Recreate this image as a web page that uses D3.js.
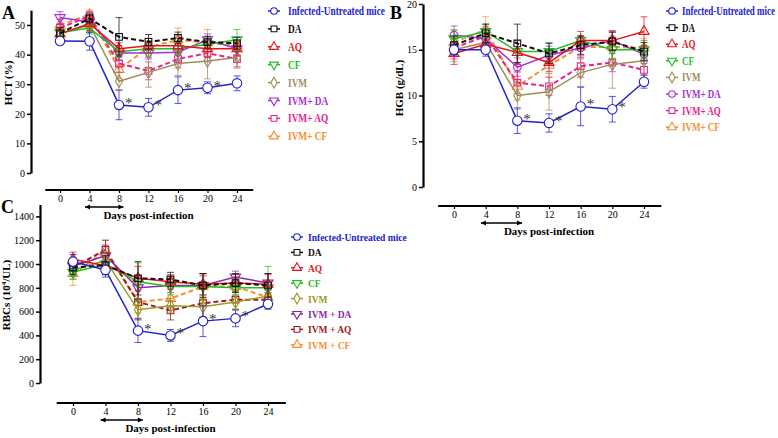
<!DOCTYPE html>
<html>
<head>
<meta charset="utf-8">
<script src="https://cdn.jsdelivr.net/npm/d3@7"></script>
<style>
  body { margin: 0; background: #fff; }
  text { font-family: "Liberation Serif", "DejaVu Serif", serif; }
</style>
</head>
<body>
<svg id="chart" width="778" height="438"></svg>
<script>
// Sample days
var days = [0, 4, 8, 12, 16, 20, 24];

// Group names (legend text)
var groupsAB = ["Infected-Untreated mice", "DA", "AQ", "CF", "IVM", "IVM+ DA", "IVM+ AQ", "IVM+ CF"];
var groupsC = ["Infected-Untreated mice", "DA", "AQ", "CF", "IVM", "IVM + DA", "IVM + AQ", "IVM + CF"];

// HCT (%) - panel A
var hctMean = [
  [44.6, 44.5, 23.0, 22.2, 28.0, 28.8, 30.3],
  [47.2, 52.2, 46.0, 44.3, 45.6, 44.2, 43.8],
  [47.0, 50.5, 42.0, 43.0, 43.0, 42.0, 42.0],
  [47.5, 49.0, 41.0, 42.0, 42.0, 43.5, 45.0],
  [47.0, 50.0, 31.0, 34.0, 37.0, 37.8, 39.0],
  [52.5, 51.0, 40.5, 40.5, 40.8, 45.0, 42.0],
  [49.0, 53.0, 37.0, 34.5, 38.5, 40.5, 38.5],
  [50.0, 53.5, 35.0, 42.5, 45.0, 44.0, 43.0]
];
var hctErr = [
  [1, 3, 5, 3, 4.5, 2, 2.5],
  [2, 1.5, 6.5, 2.5, 2, 2, 2],
  [2, 2.5, 2, 2.5, 2.5, 3, 2.5],
  [1.5, 2, 2, 2.5, 2, 2.5, 3.5],
  [2, 2, 3, 5, 4, 6, 3],
  [2, 2, 2.5, 2, 3, 2, 2],
  [3, 1.5, 3, 3, 3, 3, 3],
  [2, 1.5, 3, 2, 4, 4.5, 2]
];

// HGB (g/dL) - panel B
var hgbMean = [
  [15.0, 15.0, 7.25, 7.0, 8.8, 8.5, 11.5],
  [15.5, 16.8, 15.7, 14.6, 15.5, 15.9, 14.8],
  [14.6, 15.6, 14.7, 13.6, 16.0, 16.0, 17.0],
  [16.2, 17.0, 14.8, 14.8, 16.0, 15.0, 15.0],
  [15.0, 15.8, 10.0, 10.4, 12.5, 13.4, 13.8],
  [16.6, 16.2, 13.1, 14.4, 15.2, 16.0, 14.5],
  [15.2, 16.5, 11.4, 11.0, 13.2, 13.6, 12.8],
  [15.8, 17.2, 11.0, 13.3, 15.3, 15.3, 15.2]
];
var hgbErr = [
  [0.6, 0.7, 1.4, 1.0, 2.1, 1.4, 0.7],
  [1, 1, 2.1, 1.1, 1, 1, 1],
  [1.2, 1, 1.3, 1, 1, 1, 1.6],
  [1, 0.8, 1.2, 1, 0.5, 1, 1],
  [1.3, 1, 1.5, 2, 1.5, 2.6, 1.5],
  [1, 1, 1, 1, 1, 1.1, 1],
  [1.2, 1, 1.2, 1, 1.2, 1, 1],
  [1.3, 1.4, 1.5, 1.3, 1.2, 1.2, 1]
];

// RBCs (10^4/UL) - panel C
var rbcMean = [
  [1020, 950, 440, 400, 520, 543, 664],
  [970, 990, 880, 870, 820, 840, 820],
  [1040, 985, 880, 850, 830, 840, 830],
  [930, 1000, 850, 810, 810, 800, 800],
  [950, 1030, 615, 650, 640, 680, 730],
  [980, 1070, 800, 820, 820, 890, 840],
  [970, 1120, 680, 610, 670, 700, 700],
  [920, 1110, 680, 710, 810, 810, 720]
];
var rbcErr = [
  [60, 60, 100, 50, 130, 70, 30],
  [60, 80, 140, 60, 100, 80, 100],
  [60, 70, 100, 60, 90, 70, 80],
  [60, 60, 160, 70, 110, 60, 180],
  [70, 80, 70, 60, 80, 60, 60],
  [60, 90, 100, 60, 80, 50, 80],
  [70, 80, 150, 80, 120, 80, 80],
  [100, 90, 90, 100, 100, 80, 80]
];

var hctTicks = [0, 10, 20, 30, 40, 50];
var hgbTicks = [0, 5, 10, 15, 20];
var rbcTicks = [0, 200, 400, 600, 800, 1000, 1200, 1400];
var starDays = [8, 12, 16, 20];

var colorsAB = ["#2222cc", "#111111", "#e8141c", "#1fbf1f", "#a08c5a", "#a830d8", "#e8258a", "#f59030"];
var colorsC = ["#2222cc", "#111111", "#e8141c", "#1fbf1f", "#9c9a2a", "#8a2aa8", "#a01818", "#f59030"];
var dashed = [false, true, false, false, false, false, true, true];

var svg = d3.select("#chart");

function symbolPath(kind, size) {
  var t = { circle: d3.symbolCircle, square: d3.symbolSquare, up: d3.symbolTriangle,
            down: d3.symbolTriangle, diamond: d3.symbolDiamond }[kind];
  return d3.symbol().type(t).size(size)();
}

function drawPanel(p) {
  var g = svg.append("g");
  var x = d3.scaleLinear().domain([0, 24]).range(p.xr);
  var y = d3.scaleLinear().domain(p.yd).range(p.yr);

  // y axis
  var ya = g.append("g").attr("transform", "translate(" + p.yx + ",0)")
    .call(d3.axisLeft(y).tickValues(p.yticks).tickFormat(d3.format("d"))
      .tickSize(4).tickPadding(2).tickSizeOuter(0));
  ya.select(".domain").attr("stroke-width", 2.2);
  ya.selectAll(".tick line").attr("stroke-width", 1.5);
  ya.selectAll("text").attr("font-size", 10).attr("font-family", "Liberation Serif");

  // x axis (detached)
  var xa = g.append("g").attr("transform", "translate(0," + p.xy + ")")
    .call(d3.axisBottom(x).tickValues(days).tickSize(3).tickPadding(2).tickSizeOuter(0));
  xa.select(".domain").attr("d", "M" + x(-2) + ",0H" + x(26.2)).attr("stroke-width", 2.2);
  xa.selectAll(".tick line").attr("stroke-width", 1.2);
  xa.selectAll("text").attr("font-size", 10).attr("font-family", "Liberation Serif");

  // arrow for treatment period
  var ay = p.xy + 17;
  g.append("line").attr("x1", x(3.4)).attr("x2", x(8.6)).attr("y1", ay).attr("y2", ay)
    .attr("stroke", "#000").attr("stroke-width", 1.3);
  [[x(3.4), 1], [x(8.6), -1]].forEach(function (a) {
    g.append("path").attr("d", "M" + a[0] + "," + ay + "l" + (5 * a[1]) + ",-2.5v5z").attr("fill", "#000");
  });
  g.append("text").attr("x", x(12)).attr("y", ay + 12).attr("text-anchor", "middle")
    .attr("font-size", 11).attr("font-weight", "bold").text("Days post-infection");

  // y title
  var yt = g.append("text").attr("transform", "translate(" + p.ytx + "," + p.yty + ") rotate(-90)")
    .attr("text-anchor", "middle").attr("font-size", 11).attr("font-weight", "bold");
  if (p.sup) {
    yt.append("tspan").text(p.ytitle[0]);
    yt.append("tspan").attr("dy", -4).attr("font-size", 7).text(p.sup);
    yt.append("tspan").attr("dy", 4).text(p.ytitle[1]);
  } else yt.text(p.ytitle);

  // panel letter
  g.append("text").attr("x", p.letter[0]).attr("y", p.letter[1])
    .attr("font-family", "Liberation Sans").attr("font-weight", "bold").attr("font-size", 18).text(p.name);

  var line = d3.line().x(function (d, i) { return x(days[i]); }).y(function (d) { return y(d); });

  // draw series back to front (infected on top)
  for (var s = p.means.length - 1; s >= 0; s--) {
    var col = p.colors[s];
    var sg = g.append("g");
    // error bars
    p.means[s].forEach(function (m, i) {
      var e = p.errs[s][i], cx = x(days[i]);
      sg.append("path")
        .attr("d", "M" + cx + "," + y(m - e) + "V" + y(m + e) +
          "M" + (cx - 3.5) + "," + y(m - e) + "h7M" + (cx - 3.5) + "," + y(m + e) + "h7")
        .attr("stroke", col).attr("stroke-width", 1).attr("fill", "none").attr("opacity", 0.75);
    });
    sg.append("path").datum(p.means[s]).attr("d", line).attr("fill", "none")
      .attr("stroke", col).attr("stroke-width", dashed[s] ? 2 : 1.5)
      .attr("stroke-dasharray", dashed[s] ? "5,3" : null);
    p.means[s].forEach(function (m, i) {
      sg.append("path").attr("d", symbolPath(p.symbols[s], s === 0 ? 70 : 45))
        .attr("transform", "translate(" + x(days[i]) + "," + y(m) + ")" + (p.symbols[s] === "down" ? " rotate(180)" : ""))
        .attr("fill", s === 0 ? "#fff" : "none").attr("stroke", col).attr("stroke-width", 1.1);
    });
  }

  // significance stars on infected group
  starDays.forEach(function (d) {
    var i = days.indexOf(d);
    g.append("text").attr("x", x(d) + 6).attr("y", y(p.means[0][i]) + 3)
      .attr("font-size", 15).attr("fill", "#333").attr("font-family", "DejaVu Sans").text("*");
  });

  // legend (text squeezed horizontally like the original figure)
  var k = 1;
  p.groups.forEach(function (name, i) {
    var ly = p.leg[1] + i * p.leg[3];
    var col = p.colors[i];
    g.append("line").attr("x1", p.leg[0] - 6).attr("x2", p.leg[0] + 6).attr("y1", ly).attr("y2", ly)
      .attr("stroke", col).attr("stroke-width", 1.5);
    g.append("path").attr("d", symbolPath(p.symbols[i], 34))
      .attr("transform", "translate(" + p.leg[0] + "," + ly + ")" + (p.symbols[i] === "down" ? " rotate(180)" : ""))
      .attr("fill", "#fff").attr("stroke", col).attr("stroke-width", 1.1);
    var t = g.append("text").attr("x", 0).attr("y", 0).attr("fill", col)
      .attr("font-size", p.legSize).attr("font-weight", "bold").text(name);
    if (i === 0) k = Math.min(1, p.legW / t.node().getComputedTextLength());
    t.attr("transform", "translate(" + p.leg[2] + "," + (ly + 4) + ") scale(" + k + ",1)");
  });
}

var symA = ["circle", "square", "up", "down", "diamond", "down", "square", "up"];
var symB = ["circle", "square", "up", "down", "diamond", "circle", "square", "up"];

drawPanel({
  name: "A", letter: [2, 19], means: hctMean, errs: hctErr, colors: colorsAB, groups: groupsAB, symbols: symA,
  xr: [60, 237], yd: [0, 55], yr: [173, 173 - 55 * 2.96], yx: 31, yticks: hctTicks, xy: 190,
  ytitle: "HCT (%)", ytx: 12, yty: 83, leg: [274, 11, 288, 17.9], legSize: 11.5, legW: 97
});
drawPanel({
  name: "B", letter: [390, 19], means: hgbMean, errs: hgbErr, colors: colorsAB, groups: groupsAB, symbols: symB,
  xr: [454, 644], yd: [0, 20], yr: [187, 4], yx: 423, yticks: hgbTicks, xy: 206,
  ytitle: "HGB (g/dL)", ytx: 403, yty: 88, leg: [672, 11, 682, 16.6], legSize: 11.5, legW: 93
});
drawPanel({
  name: "C", letter: [1, 213], means: rbcMean, errs: rbcErr, colors: colorsC, groups: groupsC, symbols: symA,
  xr: [73, 268], yd: [0, 1500], yr: [383, 383 - 1500 * 0.119], yx: 40, yticks: rbcTicks, xy: 403,
  ytitle: ["RBCs (10", "/UL)"], sup: "4", ytx: 10, yty: 295, leg: [297, 237, 308, 15.4], legSize: 11, legW: 99
});
</script>
</body>
</html>
